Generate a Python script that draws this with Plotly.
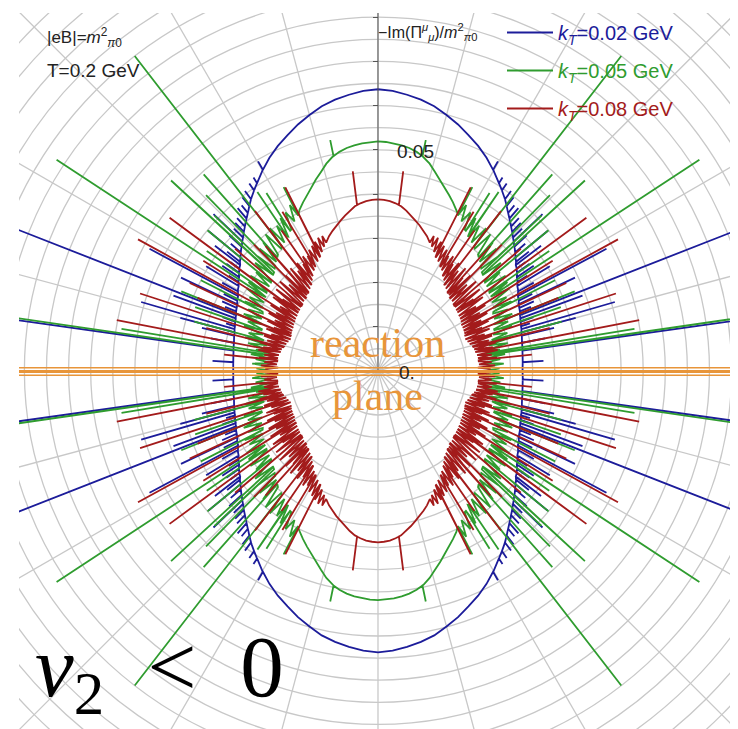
import numpy as np
import plotly.graph_objects as go

# ---------------- data (first quadrant, angle in degrees, radius in 1e-3 m_pi0^2) --------------
# the figure is mirror-symmetric about both axes; the other quadrants are reflections
blue_env_theta = [0, 3, 6, 9, 12, 15, 18, 21, 24, 27, 30, 33, 36, 39, 42, 45, 48, 51, 54, 57,
                  60, 63, 66, 69, 72, 75, 78, 81, 84, 87, 90]
blue_env_r = [32.7, 32.8, 32.9, 33.1, 33.3, 33.6, 34.0, 34.5, 35.0, 35.7, 36.6, 37.6, 38.8, 40.1,
              41.6, 43.1, 44.8, 46.6, 48.6, 50.4, 52.3, 54.1, 55.7, 57.1, 58.6, 59.9, 61.2, 62.1,
              62.8, 63.4, 63.7]
blue_spk_theta = [3.4, 8.0, 11.0, 13.7, 15.0, 16.2, 20.2, 21.4, 25.3, 28.1, 31.3, 34.0, 37.5,
                  39.5, 43.6, 60.2]
blue_spk_base = [32.8, 33.0, 33.2, 33.5, 33.6, 33.8, 34.3, 34.5, 35.2, 35.9, 36.9, 37.9, 39.3,
                 40.3, 42.4, 52.4]
blue_spk_tip = [37.5, 110.0, 38.5, 41.0, 46.3, 55.8, 49.3, 110.0, 49.3, 58.6, 45.5, 42.5, 46.5,
                49.8, 51.4, 54.6]
blue_teeth_theta = [17.3, 19.0, 22.7, 24.0, 26.5, 29.5, 32.5, 35.2, 36.4, 38.3, 40.8, 42.3, 44.6,
                    46.0, 47.3, 49.2, 50.5, 52.0, 53.5, 55.5, 57.2]
blue_teeth_base = [33.9, 34.2, 34.8, 35.0, 35.6, 36.4, 37.4, 38.5, 39.0, 39.8, 41.0, 41.7, 42.9,
                   43.7, 44.4, 45.5, 46.3, 47.3, 48.3, 49.5, 50.5]
blue_teeth_tip = [36.0, 37.2, 37.5, 38.6, 39.0, 40.5, 40.0, 42.0, 41.5, 43.5, 44.0, 45.5, 45.8,
                  46.5, 47.0, 48.6, 48.5, 49.8, 50.6, 51.4, 52.0]

green_env_theta = [64, 66, 68, 70, 72, 74, 76, 78, 80, 82, 84, 86, 88, 90]
green_env_r = [40.5, 41.7, 42.9, 44.1, 45.5, 46.8, 48.3, 49.5, 50.3, 50.9, 51.3, 51.6, 51.8, 51.9]
green_zig_theta = [0.0, 1.2, 2.2, 3.3, 4.3, 5.4, 6.5, 7.5, 8.6, 9.8, 10.9, 12.0, 13.0, 14.1, 15.2,
                   16.3, 17.4, 18.6, 19.7, 20.8, 21.9, 23.0, 24.1, 25.3, 26.4, 27.5, 28.7, 29.8,
                   30.9, 32.1, 33.2, 34.4, 35.5, 36.7, 37.8, 39.0, 40.1, 41.3, 42.4, 43.6, 44.7,
                   45.9, 47.0, 48.2, 49.3, 50.5, 51.6, 52.8, 53.9, 55.1, 56.2, 57.4, 58.5, 59.7,
                   60.8, 62.0, 63.1, 64.0]
green_zig_r = [24.5, 27.5, 24.4, 28.5, 24.3, 27.8, 24.5, 29.0, 24.8, 28.0, 25.3, 30.0, 25.7, 31.0,
               26.8, 30.5, 27.3, 32.0, 27.9, 31.5, 28.2, 33.0, 28.8, 32.5, 29.1, 34.0, 29.6, 33.5,
               30.1, 35.0, 30.5, 35.5, 30.9, 36.0, 31.1, 35.5, 31.5, 37.0, 32.1, 37.5, 32.9, 38.5,
               33.7, 39.0, 34.7, 40.0, 35.3, 40.5, 35.9, 40.0, 36.5, 41.0, 37.5, 41.5, 38.7, 42.5,
               39.9, 40.5]
green_spk_theta = [8.3, 9.3, 15.0, 19.2, 22.0, 27.1, 33.3, 35.0, 39.5, 42.6, 43.5, 45.6, 48.4,
                   52.3, 56.0, 57.9, 62.8, 78.3]
green_spk_base = [24.8, 25.0, 26.7, 27.9, 28.4, 29.3, 30.5, 30.8, 31.4, 32.2, 32.4, 33.2, 34.3,
                  35.6, 36.6, 37.4, 39.5, 49.6]
green_spk_tip = [110.0, 58.8, 43.0, 43.8, 48.0, 45.0, 87.0, 47.3, 50.0, 63.6, 51.0, 55.6, 59.4,
                 90.0, 48.8, 47.5, 46.7, 53.3]

red_env_theta = [68, 70, 72, 74, 76, 78, 80, 82, 84, 86, 88, 90]
red_env_r = [31.3, 32.4, 33.3, 34.2, 35.0, 35.9, 36.8, 37.6, 38.1, 38.5, 38.7, 38.8]
red_zig_theta = [0.0, 0.9, 1.8, 2.7, 3.6, 4.5, 5.4, 6.3, 7.2, 8.1, 9.0, 9.9, 10.8, 11.7, 12.6,
                 13.5, 14.4, 15.3, 16.2, 17.1, 18.0, 18.9, 19.8, 20.7, 21.6, 22.5, 23.4, 24.3,
                 25.2, 26.1, 27.0, 27.9, 28.8, 29.7, 30.6, 31.5, 32.4, 33.3, 34.2, 35.1, 36.0,
                 36.9, 37.8, 38.7, 39.6, 40.5, 41.4, 42.3, 43.2, 44.1, 45.0, 45.9, 46.8, 47.7,
                 48.6, 49.5, 50.4, 51.3, 52.2, 53.1, 54.0, 54.9, 55.8, 56.7, 57.6, 58.5, 59.4,
                 60.3, 61.2, 62.1, 63.0, 63.9, 64.8, 65.7, 66.6, 67.5, 68.0]
red_zig_r = [22.5, 25.5, 22.6, 26.5, 22.9, 25.8, 22.9, 27.0, 22.8, 26.0, 22.7, 27.5, 22.6, 26.5,
             22.3, 27.5, 22.0, 26.0, 21.6, 27.0, 21.3, 25.5, 21.0, 27.0, 21.1, 25.5, 21.3, 27.5,
             21.4, 26.0, 21.5, 28.0, 21.7, 26.5, 21.8, 28.5, 22.0, 26.5, 22.1, 29.0, 22.3, 27.0,
             22.4, 29.5, 22.6, 27.5, 22.8, 30.0, 23.0, 28.0, 23.2, 30.0, 23.5, 28.5, 23.8, 30.5,
             24.1, 29.0, 24.5, 30.5, 25.3, 29.5, 26.1, 31.0, 26.9, 30.5, 27.6, 31.5, 28.2, 32.0,
             28.8, 32.5, 29.7, 33.0, 30.6, 33.0, 31.3]
red_spk_theta = [6.0, 11.0, 14.0, 18.0, 22.0, 25.0, 28.7, 32.2, 36.3, 40.5, 45.5, 48.0, 52.4,
                 55.5, 59.0, 63.2, 82.8]
red_spk_base = [22.9, 22.6, 22.1, 21.3, 21.1, 21.4, 21.7, 22.0, 22.3, 22.7, 23.2, 23.6, 24.6,
                26.0, 27.4, 28.9, 37.8]
red_spk_tip = [35.0, 60.2, 40.0, 56.6, 44.0, 47.0, 61.9, 46.7, 58.5, 42.5, 40.0, 38.0, 45.6,
               38.5, 42.0, 46.5, 45.5]

series_names = ["<i>k</i><sub><i>T</i></sub>=0.02 GeV", "<i>k</i><sub><i>T</i></sub>=0.05 GeV",
                "<i>k</i><sub><i>T</i></sub>=0.08 GeV"]
series_colors = ["#1c1c9a", "#2f9c2f", "#a31b1b"]
grid_radii = [0.005 * k for k in range(1, 24)]
spoke_angles = list(range(0, 180, 15))
axis_tickvals = [0.01, 0.02, 0.03, 0.04, 0.05, 0.06, 0.07, 0.08]


def quadrant(parts, spikes):
    pts = []
    for th, rr in parts:
        pts += [(t, r, 0) for t, r in zip(th, rr)]
    for th, base, tip in spikes:
        for t, b, p in zip(th, base, tip):
            pts += [(t, b, 1), (t, p, 2), (t, b, 3)]
    pts.sort(key=lambda q: (q[0], q[2]))
    th = np.array([q[0] for q in pts])
    rr = np.array([q[1] for q in pts])
    return th, rr


def full_curve(th, rr):
    t = np.concatenate([th, 180 - th[::-1], 180 + th, 360 - th[::-1]])
    r = np.concatenate([rr, rr[::-1], rr, rr[::-1]]) / 1000.0
    a = np.deg2rad(t)
    return r * np.cos(a), r * np.sin(a)


curves = [
    quadrant([(blue_env_theta, blue_env_r)],
             [(blue_spk_theta, blue_spk_base, blue_spk_tip),
              (blue_teeth_theta, blue_teeth_base, blue_teeth_tip)]),
    quadrant([(green_zig_theta, green_zig_r), (green_env_theta, green_env_r)],
             [(green_spk_theta, green_spk_base, green_spk_tip)]),
    quadrant([(red_zig_theta, red_zig_r), (red_env_theta, red_env_r)],
             [(red_spk_theta, red_spk_base, red_spk_tip)]),
]

fig = go.Figure()
for (th, rr), name, col in zip(curves, series_names, series_colors):
    x, y = full_curve(th, rr)
    fig.add_trace(go.Scatter(
        x=x, y=y, mode="lines", line=dict(color=col, width=1.8),
        name=f'<span style="color:{col}">{name}</span>', legendgroup=name, hoverinfo="skip"))

GRID = "#c8c8c8"
shapes = []
for r in grid_radii:
    shapes.append(dict(type="circle", xref="x", yref="y", x0=-r, x1=r, y0=-r, y1=r,
                       line=dict(color=GRID, width=1.3), layer="below"))
R = 0.13
for a in spoke_angles:
    c, s = np.cos(np.deg2rad(a)), np.sin(np.deg2rad(a))
    shapes.append(dict(type="line", xref="x", yref="y", x0=-R * c, y0=-R * s, x1=R * c, y1=R * s,
                       line=dict(color=GRID, width=1.3), layer="below"))
# vertical axis (upper half)
shapes.append(dict(type="line", xref="x", yref="y", x0=0, y0=0, x1=0, y1=0.09,
                   line=dict(color="#555555", width=1)))
# reaction-plane marker lines
ORANGE = "#e8953a"
for yy, w in [(0.0007, 1.6), (-0.00016, 3.2), (-0.00100, 1.6)]:
    shapes.append(dict(type="line", xref="paper", yref="y", x0=0, x1=1, y0=yy, y1=yy,
                       line=dict(color=ORANGE, width=w)))


# the page body has an 8px margin: plot area spans screen x 19..738, y 13..729
def PX(px):
    return (px - 19) / 719


def PY(py):
    return (729 - py) / 716


FONT = "Liberation Sans, Arial, sans-serif"
SERIF = "Liberation Serif, Times New Roman, serif"
annotations = [
    dict(text="|eB|=<i>m</i><sup>2</sup><sub><i>π</i>0</sub>", x=PX(45), y=PY(38),
         xanchor="left", yanchor="middle", font=dict(size=17, color="#222", family=FONT)),
    dict(text="T=0.2 GeV", x=PX(45), y=PY(70), xanchor="left", yanchor="middle",
         font=dict(size=19, color="#222", family=FONT)),
    dict(text="−Im(Π<sup><i>μ</i></sup><sub><i>μ</i></sub>)/<i>m</i><sup>2</sup><sub><i>π</i>0</sub>",
         x=PX(376), y=PY(32), xanchor="left", yanchor="middle",
         font=dict(size=16, color="#222", family=FONT)),
    dict(text="0.05", x=PX(395), y=PY(151), xanchor="left", yanchor="middle",
         font=dict(size=19, color="#222", family=FONT)),
    dict(text="0.", x=PX(397), y=PY(372), xanchor="left", yanchor="middle",
         font=dict(size=19, color="#222", family=FONT)),
    dict(text="reaction", x=PX(377), y=PY(343), xanchor="center", yanchor="middle",
         font=dict(size=42, color=ORANGE, family=SERIF)),
    dict(text="plane", x=PX(377), y=PY(396), xanchor="center", yanchor="middle",
         font=dict(size=42, color=ORANGE, family=SERIF)),
    dict(text="<i>v</i><sub>2</sub>\u00a0\u00a0&lt;\u00a0\u00a00", x=PX(33), y=PY(729),
         xanchor="left", yanchor="bottom",
         font=dict(size=87, color="#000", family=SERIF)),
]
for a in annotations:
    a.update(xref="paper", yref="paper", showarrow=False)

fig.update_layout(
    width=730, height=721,
    margin=dict(l=11, r=0, t=5, b=0),
    paper_bgcolor="white", plot_bgcolor="white",
    xaxis=dict(range=[-0.08122, 0.08145], visible=False),
    yaxis=dict(range=[-0.08104, 0.08095], anchor="free", position=PX(378), showgrid=False,
               zeroline=False, showline=False, showticklabels=False, ticks="outside",
               ticklen=5, tickwidth=1, tickcolor="#555555", tickvals=axis_tickvals),
    shapes=shapes,
    annotations=annotations,
    showlegend=True,
    legend=dict(x=PX(502), y=PY(13), xanchor="left", yanchor="top", bgcolor="rgba(0,0,0,0)",
                font=dict(size=20, family=FONT), tracegroupgap=9, itemwidth=46),
)

fig.write_html("out.html")
